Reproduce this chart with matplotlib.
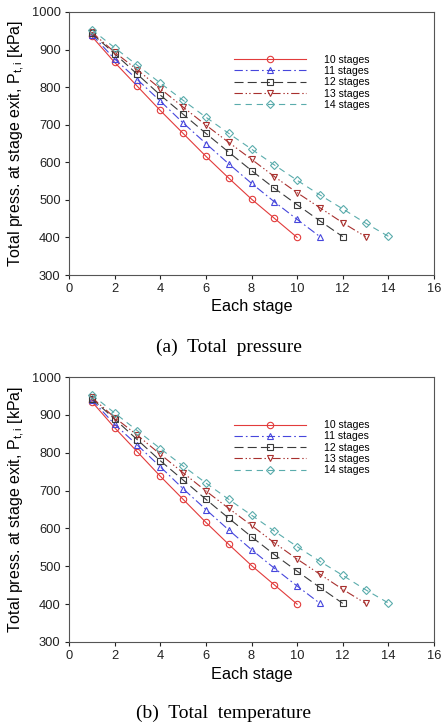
import matplotlib
matplotlib.use("Agg")
import matplotlib.pyplot as plt

plt.rcParams['font.family'] = ['Liberation Sans', 'DejaVu Sans']
plt.rcParams['mathtext.fontset'] = 'custom'
plt.rcParams['mathtext.rm'] = 'Liberation Sans'
plt.rcParams['lines.scale_dashes'] = False

# ---- data ----
stages10 = [1, 2, 3, 4, 5, 6, 7, 8, 9, 10]
p10 = [935, 866, 802, 738, 677, 616, 558, 502, 451, 400]
stages11 = [1, 2, 3, 4, 5, 6, 7, 8, 9, 10, 11]
p11 = [940, 875, 820, 763, 705, 650, 596, 544, 495, 448, 402]
stages12 = [1, 2, 3, 4, 5, 6, 7, 8, 9, 10, 11, 12]
p12 = [943, 889, 834, 779, 728, 677, 627, 578, 531, 487, 444, 402]
stages13 = [1, 2, 3, 4, 5, 6, 7, 8, 9, 10, 11, 12, 13]
p13 = [946, 893, 846, 796, 747, 699, 653, 608, 562, 519, 479, 439, 402]
stages14 = [1, 2, 3, 4, 5, 6, 7, 8, 9, 10, 11, 12, 13, 14]
p14 = [953, 905, 858, 811, 765, 720, 677, 635, 593, 552, 513, 476, 438, 403]

labels = ['10 stages', '11 stages', '12 stages', '13 stages', '14 stages']
xticks = [0, 2, 4, 6, 8, 10, 12, 14, 16]
yticks = [300, 400, 500, 600, 700, 800, 900, 1000]
captions = ['(a)  Total  pressure', '(b)  Total  temperature']

series = [(stages10, p10), (stages11, p11), (stages12, p12), (stages13, p13), (stages14, p14)]
styles = [
    dict(color='#e23b3b', ls='-', marker='o'),
    dict(color='#4646dc', ls=(0, (6, 2.2, 1.2, 2.2)), marker='^'),
    dict(color='#3a3a3a', ls=(0, (6.5, 3)), marker='s'),
    dict(color='#a8302e', ls=(0, (6, 2, 1, 1.6, 1, 2)), marker='v'),
    dict(color='#5aacac', ls=(0, (4.5, 3.5)), marker='D'),
]
msizes = [4.6, 4.8, 4.6, 4.8, 4.0]

fig = plt.figure(figsize=(4.46, 7.28), dpi=100)
axes_rects = [
    [69/446, 1 - 275/728, 365/446, 263/728],
    [69/446, 1 - 642/728, 365/446, 265/728],
]
cap_y = [1 - 347/728, 1 - 713/728]
cap_x = [229/446, 224/446]

for k, rect in enumerate(axes_rects):
    ax = fig.add_axes(rect)
    for (xs, ys), st, ms, lab in zip(series, styles, msizes, labels):
        ax.plot(xs, ys, color=st['color'], linestyle=st['ls'], lw=0.8,
                marker=st['marker'], ms=ms, mfc='none', mec=st['color'],
                mew=0.8, label=lab)
    ax.set_xlim(0, 16)
    ax.set_ylim(300, 1000)
    ax.set_xticks(xticks)
    ax.set_yticks(yticks)
    ax.tick_params(direction='out', length=3, width=0.8, pad=3.0,
                   labelsize=9.3, colors='#222222')
    for sp in ax.spines.values():
        sp.set_color('#555555')
        sp.set_linewidth(0.8)
    ax.set_xlabel('Each stage', fontsize=11.7, labelpad=3)
    ax.set_ylabel(r'Total press. at stage exit, P$_{\mathregular{t,i}}$ [kPa]',
                  fontsize=11.5, labelpad=3)
    leg = ax.legend(loc='upper left', bbox_to_anchor=(0.452, 0.837),
                    frameon=False, fontsize=7.6, numpoints=1,
                    handlelength=6.8, handletextpad=1.7, labelspacing=0.12,
                    borderpad=0, borderaxespad=0)
    fig.text(cap_x[k], cap_y[k], captions[k], ha='center', va='center',
             fontsize=14, family='Liberation Serif')

fig.savefig('out.png', dpi=100)
